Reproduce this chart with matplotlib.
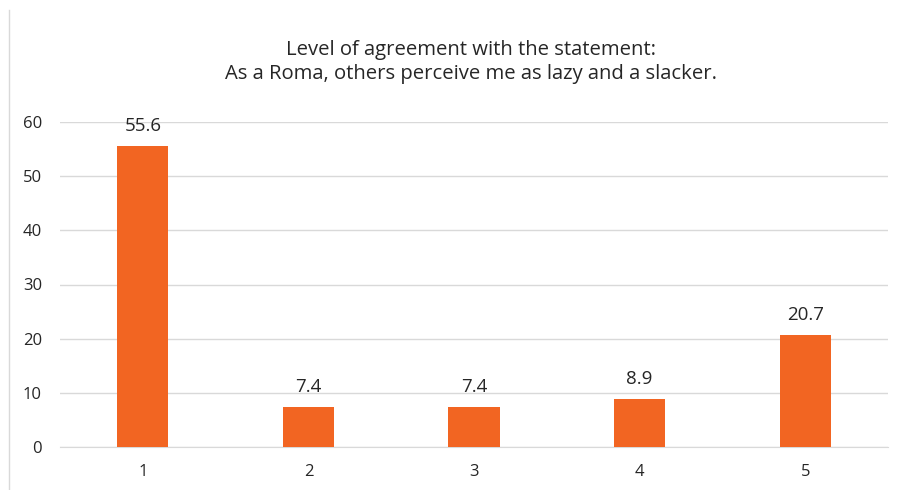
import matplotlib.pyplot as plt
from matplotlib.lines import Line2D

categories = ['1', '2', '3', '4', '5']
values = [55.6, 7.4, 7.4, 8.9, 20.7]
yticks = [0, 10, 20, 30, 40, 50, 60]
title = 'Level of agreement with the statement:\nAs a Roma, others perceive me as lazy and a slacker.'

plt.rcParams['font.family'] = ['Open Sans', 'DejaVu Sans']

fig = plt.figure(figsize=(9.01, 4.9), dpi=100)
ax = fig.add_axes([60 / 901, 1 - 447 / 490, 828 / 901, 325 / 490])

x = range(len(categories))
bars = ax.bar(x, values, width=0.31, color='#f26522', zorder=3)
for b, v in zip(bars, values):
    ax.text(b.get_x() + b.get_width() / 2, v + 2.0, f'{v:.1f}',
            ha='center', va='bottom', fontsize=13.5, color='#262626')

ax.set_xlim(-0.5, len(categories) - 0.5)
ax.set_ylim(0, 60)
ax.set_xticks(list(x))
ax.set_xticklabels(categories)
ax.set_yticks(yticks)
ax.tick_params(axis='both', length=0, labelsize=12, labelcolor='#262626')
ax.tick_params(axis='x', pad=12)
ax.tick_params(axis='y', pad=13)
ax.yaxis.grid(True, color='#d9d9d9', linewidth=1, zorder=0)
for s in ['top', 'right', 'left']:
    ax.spines[s].set_visible(False)
ax.spines['bottom'].set_color('#d9d9d9')
ax.spines['bottom'].set_zorder(1)

fig.text(471 / 901, 1 - 62 / 490, title, ha='center', va='center',
         fontsize=14.6, color='#262626', linespacing=1.3)

# thin frame edge on the left
fig.add_artist(Line2D([8.5 / 901, 8.5 / 901], [0, 1 - 10 / 490],
                      transform=fig.transFigure, color='#d9d9d9', linewidth=1))

fig.savefig('out.png', dpi=100)
